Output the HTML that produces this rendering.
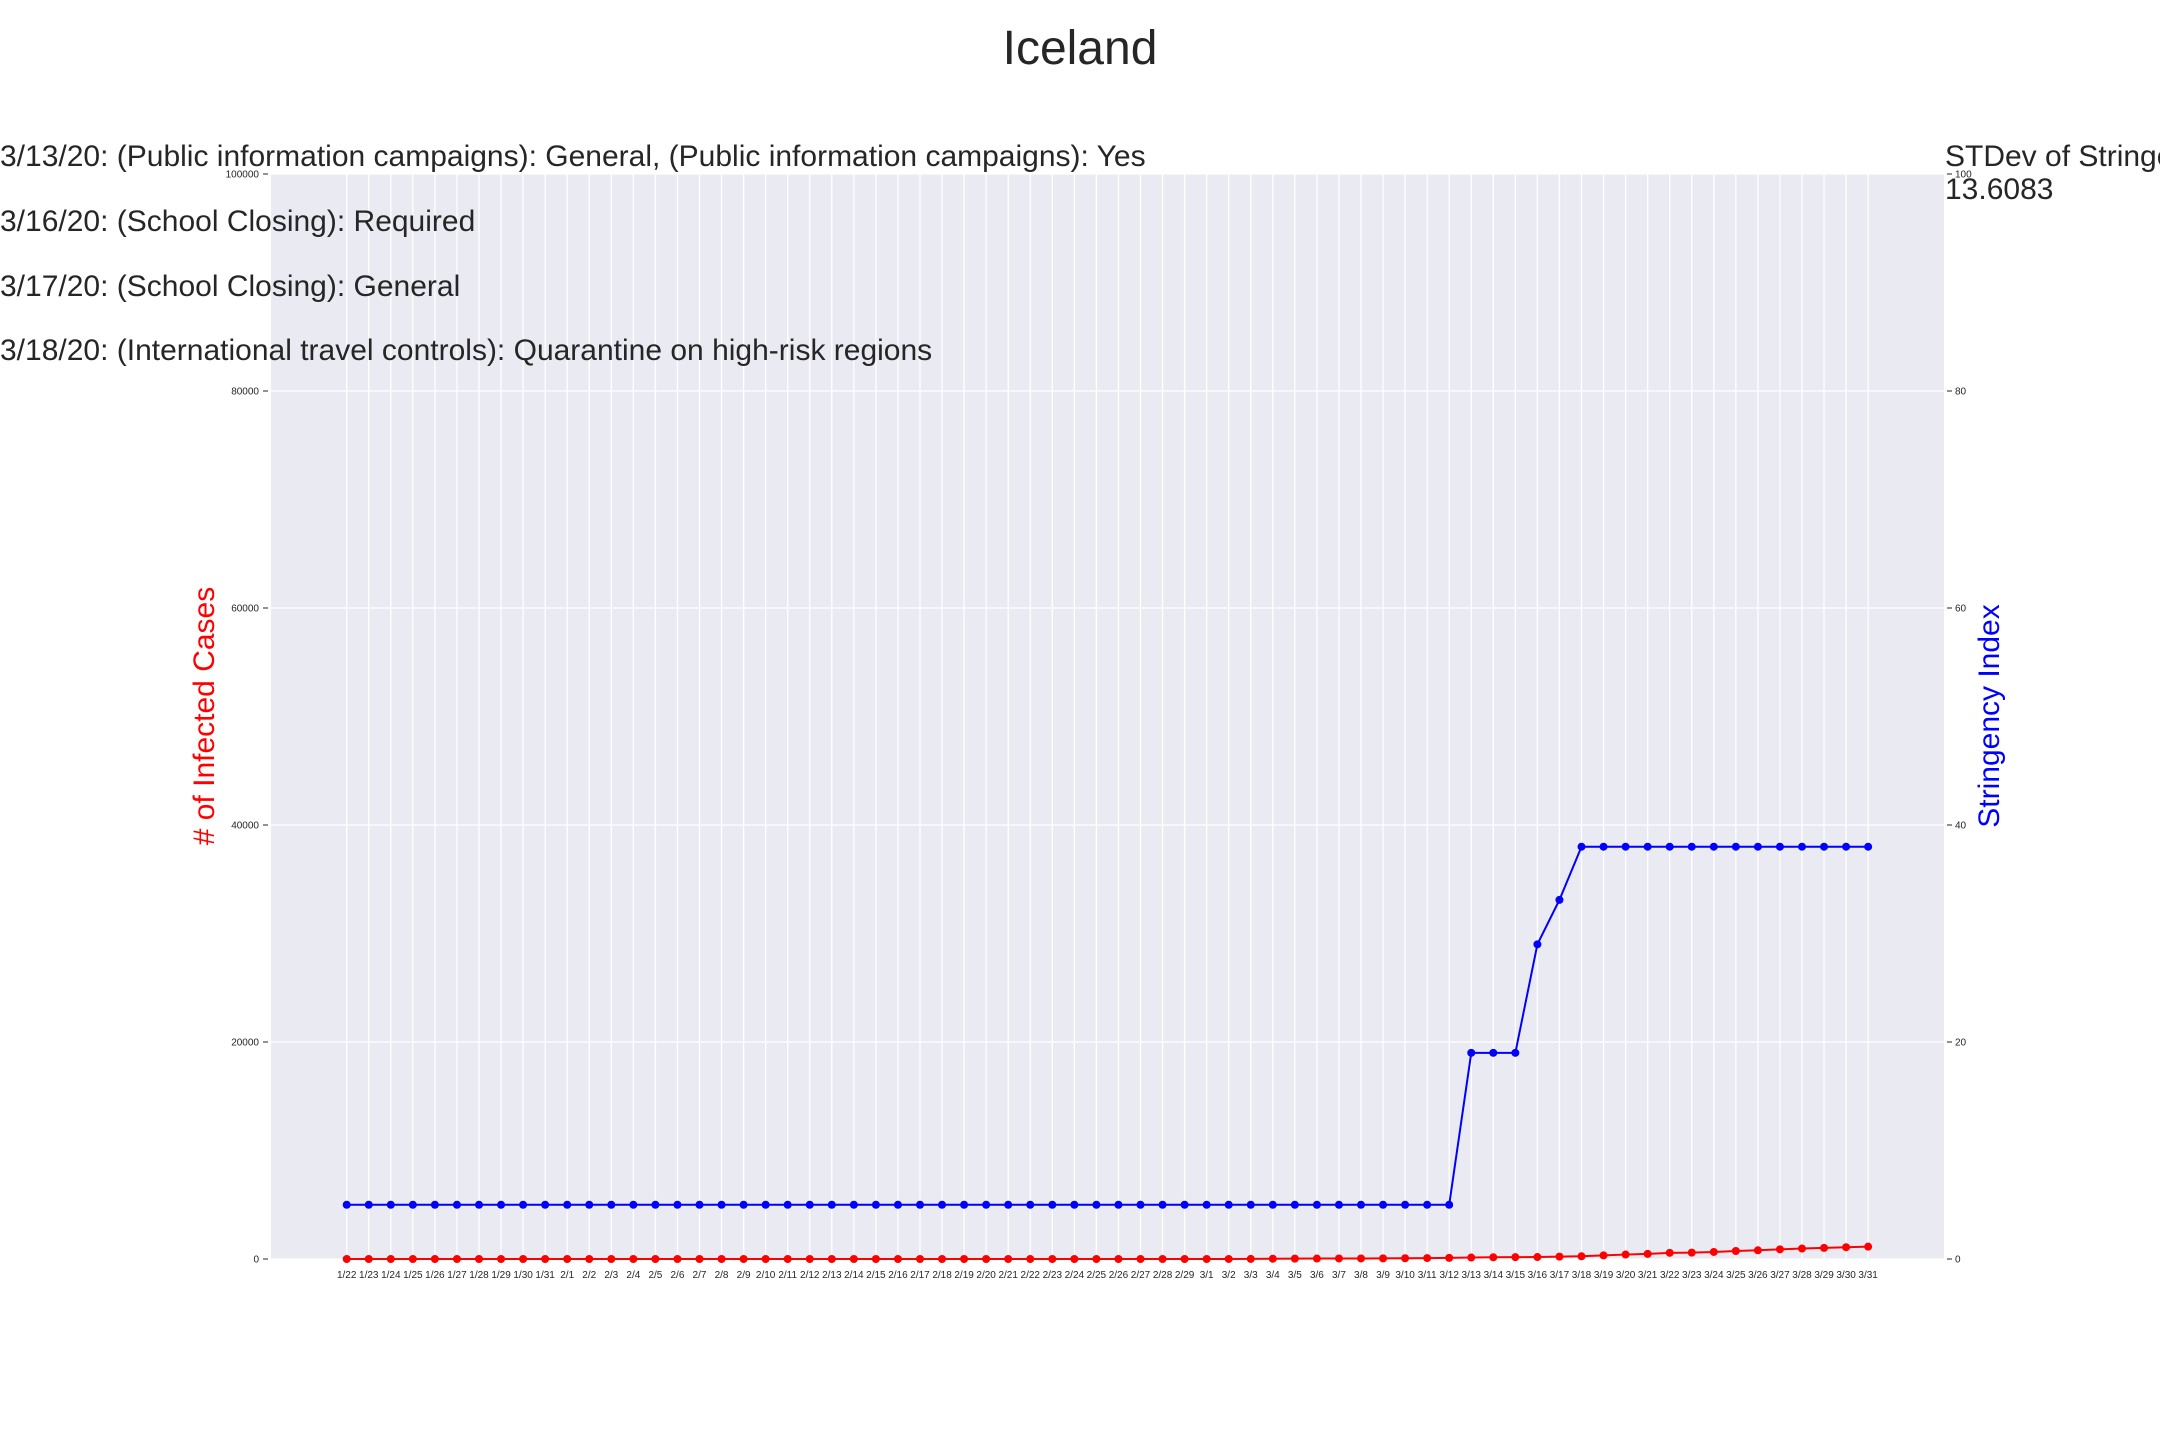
<!DOCTYPE html>
<html><head><meta charset="utf-8"><style>
body{margin:0;background:#fff;width:2160px;height:1440px;overflow:hidden}
svg{display:block;font-family:"Liberation Sans",sans-serif}
</style></head><body>
<svg id="chart" width="2160" height="1440" viewBox="0 0 2160 1440">
<text x="1080" y="64" font-size="48" text-anchor="middle" fill="#262626">Iceland</text>
<rect x="271" y="174" width="1673" height="1085" fill="#eaeaf2"/>
<g id="grid"></g><g id="axes"></g><g id="series"></g>
<g font-size="30" fill="#262626">
<text x="0" y="166">3/13/20: (Public information campaigns): General, (Public information campaigns): Yes</text>
<text x="0" y="231">3/16/20: (School Closing): Required</text>
<text x="0" y="296">3/17/20: (School Closing): General</text>
<text x="0" y="360">3/18/20: (International travel controls): Quarantine on high-risk regions</text>
<text x="1945" y="166">STDev of Stringency</text>
<text x="1945" y="199">13.6083</text>
</g>
<text transform="translate(214,716) rotate(-90)" font-size="30" fill="#ff0000" text-anchor="middle"># of Infected Cases</text>
<text transform="translate(1999,716) rotate(-90)" font-size="30" fill="#0000ff" text-anchor="middle">Stringency Index</text>
</svg>
<script>
const dates=["1/22","1/23","1/24","1/25","1/26","1/27","1/28","1/29","1/30","1/31","2/1","2/2","2/3","2/4","2/5","2/6","2/7","2/8","2/9","2/10","2/11","2/12","2/13","2/14","2/15","2/16","2/17","2/18","2/19","2/20","2/21","2/22","2/23","2/24","2/25","2/26","2/27","2/28","2/29","3/1","3/2","3/3","3/4","3/5","3/6","3/7","3/8","3/9","3/10","3/11","3/12","3/13","3/14","3/15","3/16","3/17","3/18","3/19","3/20","3/21","3/22","3/23","3/24","3/25","3/26","3/27","3/28","3/29","3/30","3/31"];
const cases=[0,0,0,0,0,0,0,0,0,0,0,0,0,0,0,0,0,0,0,0,0,0,0,0,0,0,0,0,0,0,0,0,0,0,0,0,0,1,1,1,3,9,26,34,43,50,50,58,69,85,103,134,156,171,180,220,250,330,409,473,568,588,648,737,802,890,963,1020,1086,1135];
const stringency=[5,5,5,5,5,5,5,5,5,5,5,5,5,5,5,5,5,5,5,5,5,5,5,5,5,5,5,5,5,5,5,5,5,5,5,5,5,5,5,5,5,5,5,5,5,5,5,5,5,5,5,19,19,19,29,33.1,38,38,38,38,38,38,38,38,38,38,38,38,38,38];
const leftTicks=[0,20000,40000,60000,80000,100000];
const rightTicks=[0,20,40,60,80,100];
const NS="http://www.w3.org/2000/svg";
const X0=346.7,DX=22.05,YB=1259,YT=174;
const xs=i=>X0+i*DX;
const yL=v=>YB-(v/100000)*(YB-YT);
const yR=v=>YB-(v/100)*(YB-YT);
function mk(tag,attrs,parent){const e=document.createElementNS(NS,tag);for(const k in attrs)e.setAttribute(k,attrs[k]);document.getElementById(parent).appendChild(e);return e;}
dates.forEach((d,i)=>{
  const g=mk('line',{x1:xs(i),x2:xs(i),y1:YT,y2:YB,stroke:'#fff','stroke-width':1.3},'grid');
  
  
  const t=mk('text',{x:xs(i),y:1278,'font-size':10,'text-anchor':'middle',fill:'#262626'},'axes');
  
  
  t.textContent=d;
});
leftTicks.forEach(v=>{
  const g=mk('line',{x1:271,x2:1944,y1:yL(v),y2:yL(v),stroke:'#fff','stroke-width':1.3},'grid');
  
  
  mk('line',{x1:263,x2:268,y1:yL(v),y2:yL(v),stroke:'#262626','stroke-width':1},'axes');
  const t=mk('text',{x:259,y:yL(v)+3.5,'font-size':10,'text-anchor':'end',fill:'#262626'},'axes');
  
  
  t.textContent=v;
});
rightTicks.forEach(v=>{
  mk('line',{x1:1947,x2:1952,y1:yR(v),y2:yR(v),stroke:'#262626','stroke-width':1},'axes');
  const t=mk('text',{x:1955,y:yR(v)+3.5,'font-size':10,fill:'#262626'},'axes');
  
  
  t.textContent=v;
});
function series(vals,yf,color,name){
  const p=mk('polyline',{points:vals.map((v,i)=>xs(i)+','+yf(v)).join(' '),fill:'none',stroke:color,'stroke-width':2},'series');
  
  
  vals.forEach((v,i)=>{
    const c=mk('circle',{cx:xs(i),cy:yf(v),r:4,fill:color},'series');
    
    
  });
}
series(cases,yL,'#ff0000','cases');
series(stringency,yR,'#0000ff','stringency');
</script>
</body></html>
